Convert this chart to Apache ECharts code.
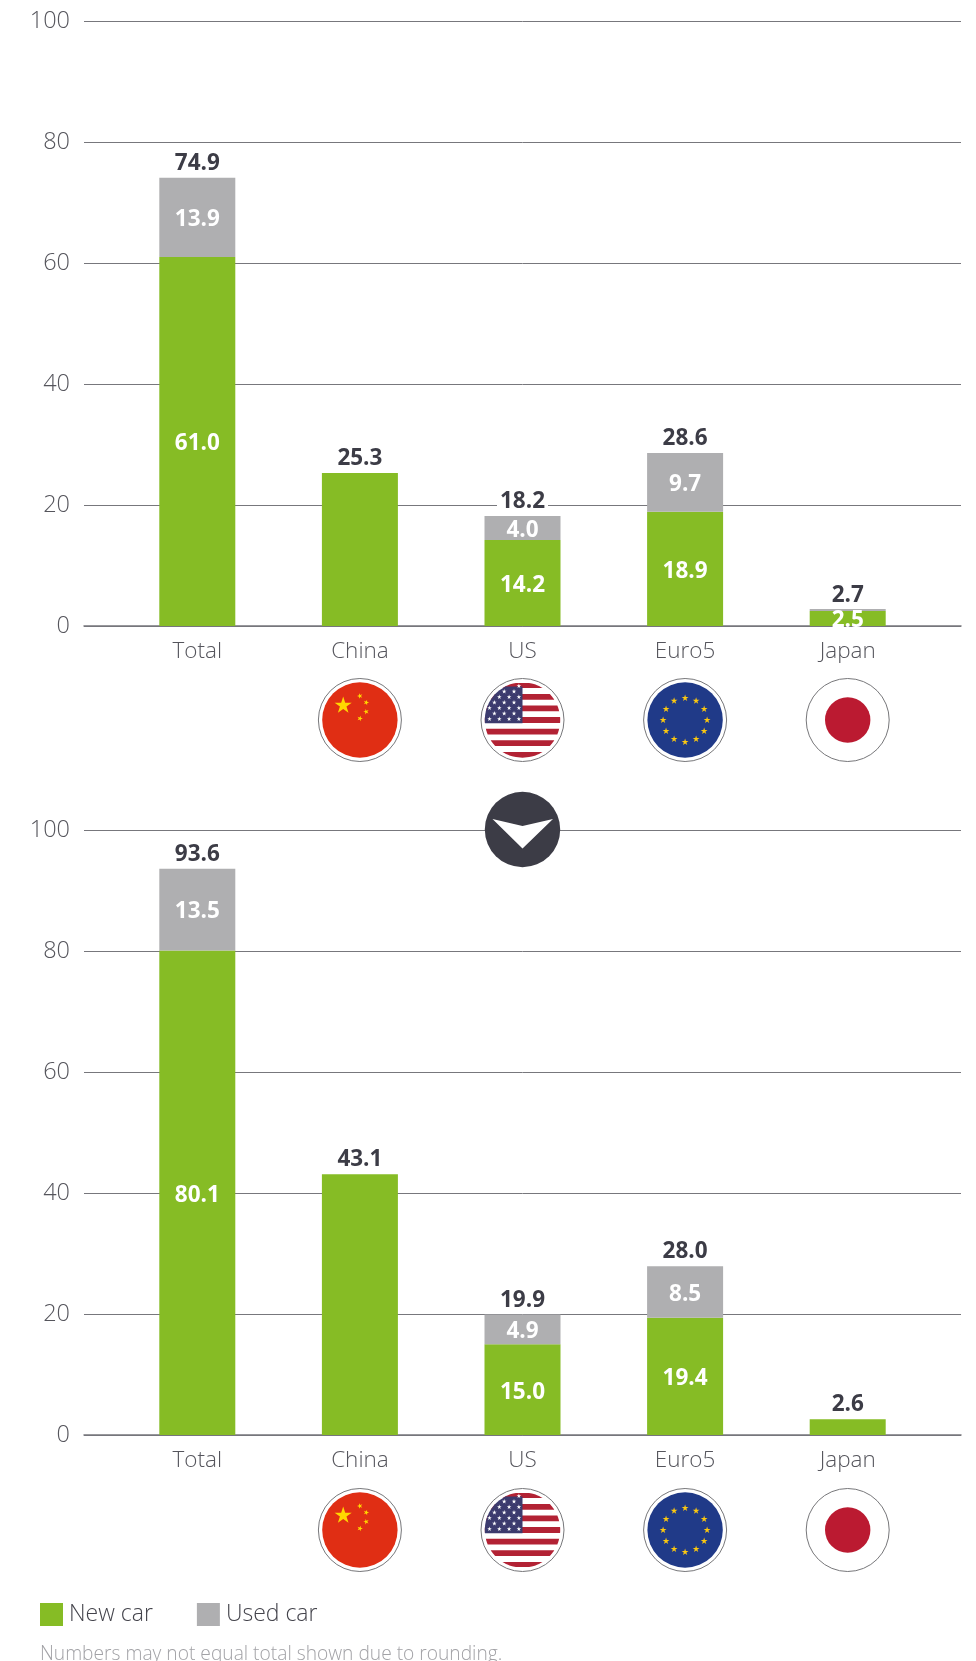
<!DOCTYPE html>
<html><head><meta charset="utf-8">
<style>html,body{margin:0;padding:0;background:#fff}#c{width:976px;height:1661px}</style>
<script src="https://cdn.jsdelivr.net/npm/echarts@6/dist/echarts.min.js"></script>
</head><body><div id="c"></div>
<script>
const categories = ['Total','China','US','Euro5','Japan'];
const yTicks = [0,20,40,60,80,100];
// panel 1
const new1 = [61.0,25.3,14.2,18.9,2.5];
const used1 = [13.1,0,4.0,9.7,0.3];
const barTop1 = [74.1,25.3,18.2,28.6,2.7];
const totalLabels1 = ['74.9','25.3','18.2','28.6','2.7'];
const newLabels1 = ['61.0','','14.2','18.9','2.5'];
const usedLabels1 = ['13.9','','4.0','9.7',''];
// panel 2
const new2 = [80.1,43.1,15.0,19.4,2.6];
const used2 = [13.5,0,4.9,8.5,0];
const barTop2 = [93.6,43.1,19.9,27.9,2.6];
const totalLabels2 = ['93.6','43.1','19.9','28.0','2.6'];
const newLabels2 = ['80.1','','15.0','19.4',''];
const usedLabels2 = ['13.5','','4.9','8.5',''];
const legendNames = ['New car','Used car'];
const footnote = 'Numbers may not equal total shown due to rounding.';

const GREEN='#86bc25', GREY='#afafb1', DARK='#3c3c46', FONT='"Open Sans"';
const panels=[
 {top:21,news:new1,used:used1,tops:barTop1,tl:totalLabels1,nl:newLabels1,ul:usedLabels1},
 {top:830,news:new2,used:used2,tops:barTop2,tl:totalLabels2,nl:newLabels2,ul:usedLabels2}
];
const H=605, grid=[], xAxis=[], yAxis=[], series=[];
panels.forEach((p,i)=>{
  const a=grid.length;
  grid.push({left:84,right:15,top:p.top,height:H});
  grid.push({left:116,width:813,top:p.top,height:H});
  xAxis.push({gridIndex:a,type:'value',min:0,max:1,show:true,splitLine:{show:false},axisTick:{show:false},axisLabel:{show:false},
    axisLine:{show:true,onZero:false,lineStyle:{color:'#77777c',width:1.5}}});
  xAxis.push({gridIndex:a+1,type:'category',data:categories,axisLine:{show:false},axisTick:{show:false},
    axisLabel:{color:'#55555c',fontFamily:FONT,fontWeight:300,fontSize:22.5,margin:14}});
  yAxis.push({gridIndex:a,type:'value',min:yTicks[0],max:yTicks[yTicks.length-1],interval:20,axisLine:{show:false},axisTick:{show:false},
    axisLabel:{color:'#55555c',fontFamily:FONT,fontWeight:300,fontSize:23.5,margin:14,padding:[4,0,0,0]},splitLine:{lineStyle:{color:'#77777c',width:1}}});
  yAxis.push({gridIndex:a+1,type:'value',min:yTicks[0],max:yTicks[yTicks.length-1],show:false});
  const inner=(arr)=>({show:true,position:'inside',offset:[0,2.5],color:'#fff',fontFamily:FONT,fontWeight:700,fontSize:22.5,formatter:o=>arr[o.dataIndex]});
  series.push({name:legendNames[0],type:'bar',xAxisIndex:a+1,yAxisIndex:a+1,stack:'s'+i,barWidth:76,data:p.news,itemStyle:{color:GREEN},label:inner(p.nl),z:3});
  series.push({name:legendNames[1],type:'bar',xAxisIndex:a+1,yAxisIndex:a+1,stack:'s'+i,barWidth:76,data:p.used,itemStyle:{color:GREY},label:inner(p.ul),z:3});
  series.push({name:'Total',type:'line',xAxisIndex:a+1,yAxisIndex:a+1,data:p.tops,symbol:'circle',symbolSize:1,itemStyle:{color:'rgba(0,0,0,0)'},lineStyle:{opacity:0},silent:true,z:4,
    label:{show:true,position:'top',distance:3,formatter:o=>p.tl[o.dataIndex],color:DARK,fontFamily:FONT,fontWeight:700,fontSize:22.5,backgroundColor:'#fff',padding:[0,3,0,3],lineHeight:22}});
});
const chart=echarts.init(document.getElementById('c'),null,{renderer:'canvas'});
chart.setOption({animation:false,backgroundColor:'#fff',grid,xAxis,yAxis,series,
  legend:{data:legendNames,left:40,top:1603,padding:0,itemWidth:23,itemHeight:23,itemGap:44,icon:'rect',selectedMode:false,
    textStyle:{color:'#44444c',fontFamily:FONT,fontWeight:300,fontSize:23,padding:[12,0,0,1]}}});

// decorative badges
function starPts(cx,cy,R,rot){const p=[];for(let i=0;i<10;i++){const r=i%2?R*0.382:R,a=-Math.PI/2+(rot||0)+i*Math.PI/5;p.push([cx+r*Math.cos(a),cy+r*Math.sin(a)]);}return p;}
function star(cx,cy,R,fill,rot){return {type:'polygon',shape:{points:starPts(cx,cy,R,rot)},style:{fill},silent:true};}
function circle(cx,cy,r,style){return {type:'circle',shape:{cx,cy,r},style,silent:true};}
function band(cx,cy,R,y1,y2,xMax,fill){ // horizontal band clipped to the circle
  const L=[],Rt=[];const n=10;
  for(let k=0;k<=n;k++){const y=y1+(y2-y1)*k/n;const dy=y-cy;if(Math.abs(dy)>R)continue;const dx=Math.sqrt(R*R-dy*dy);
    L.push([cx-dx,y]);Rt.unshift([Math.min(cx+dx,xMax==null?cx+dx:xMax),y]);}
  if(!L.length)return null;
  return {type:'polygon',shape:{points:L.concat(Rt)},style:{fill},silent:true};
}
const RO=41.5,RI=37.7;
function ring(cx,cy){return circle(cx,cy,RO,{fill:'#fff',stroke:'#77777a',lineWidth:1});}
function china(cx,cy){const e=[ring(cx,cy),circle(cx,cy,RI,{fill:'#e02e14'}),star(cx-16.7,cy-14.5,9,'#ffd800')];
  [[0,-24,-.3],[6.3,-17.5,.3],[6.3,-8.3,-.3],[0,-1.5,.3]].forEach(s=>e.push(star(cx+s[0],cy+s[1],2.9,'#ffd800',s[2])));return e;}
function us(cx,cy){const e=[ring(cx,cy),circle(cx,cy,RI,{fill:'#fff'})];
  const h=RI*2/13;
  for(let i=0;i<13;i+=2){const b=band(cx,cy,RI,cy-RI+i*h,cy-RI+(i+1)*h,null,'#b22234');if(b)e.push(b);}
  e.push(band(cx,cy,RI,cy-RI,cy+3.3,cx,'#3c3b6e'));
  for(let r=0;r<7;r++){for(let c=0;c<8;c++){const x=cx-33+c*9.8+(r%2?4.9:0),y=cy-34+r*5.5;
    if(x<cx-1&&Math.hypot(x-cx,y-cy)<RI-2)e.push(star(x,y,2.4,'#fff'));}}
  return e;}
function eu(cx,cy){const e=[ring(cx,cy),circle(cx,cy,RI,{fill:'#203a88'})];
  for(let i=0;i<12;i++){const a=i*Math.PI/6;e.push(star(cx+22*Math.sin(a),cy-22*Math.cos(a),3.6,'#fcc80f'));}return e;}
function japan(cx,cy){return [ring(cx,cy),circle(cx,cy,22.7,{fill:'#bb1a31'})];}
const flags={China:china,US:us,Euro5:eu,Japan:japan};
const els=[];
[1,3].forEach((xi,pi)=>{
  const cy=pi===0?720:1530;
  categories.forEach(cat=>{if(flags[cat]){const cx=chart.convertToPixel({xAxisIndex:xi},cat);els.push(...flags[cat](cx,cy));}});
});
const chevX=chart.convertToPixel({xAxisIndex:1},'US'), chevY=829.5;
els.push(circle(chevX,chevY,37.7,{fill:'#3c3c46'}));
els.push({type:'polygon',shape:{points:[[chevX-30,chevY-10.5],[chevX,chevY-3.5],[chevX+30.5,chevY-10.5],[chevX,chevY+19]]},style:{fill:'#fff'},silent:true});
els.push({type:'text',left:40,top:1645,silent:true,style:{text:footnote,fill:'#a2a2a6',font:'300 19.2px "Open Sans"'}});
chart.setOption({graphic:{elements:els.map(e=>Object.assign(e,{z:10}))}});
</script></body></html>
